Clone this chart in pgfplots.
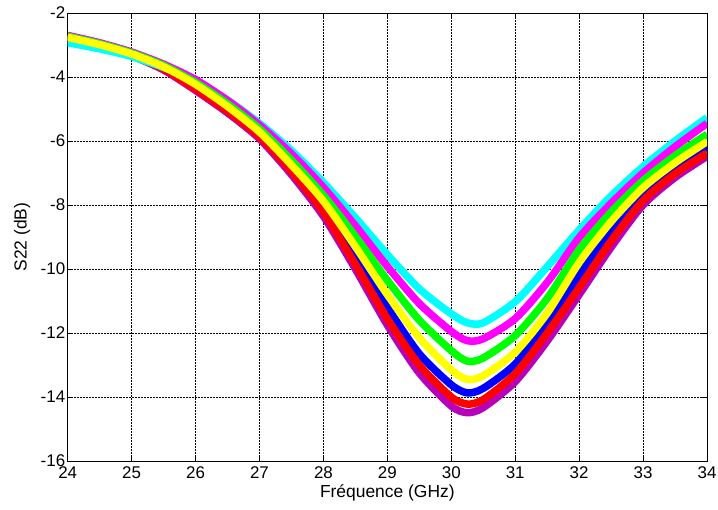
\documentclass[border=0pt]{standalone}
\usepackage{fontspec}
\setmainfont{Liberation Sans}
\usepackage{pgfplots}
\usepackage{pgfplotstable}
\pgfplotsset{compat=1.18}
\definecolor{cP}{rgb}{0.72,0,0.72}
\definecolor{cB}{rgb}{0,0,1}
\definecolor{cR}{rgb}{1,0,0}
\definecolor{cC}{rgb}{0,1,1}
\definecolor{cM}{rgb}{1,0,1}
\definecolor{cG}{rgb}{0,1,0}
\definecolor{cY}{rgb}{1,1,0}
\pgfplotstableread{
x     C      M      G      Y      B      R      P
24    -2.93  -2.70  -2.73  -2.76  -2.78  -2.80  -2.82
24.5  -3.12  -2.93  -2.96  -2.99  -3.01  -3.03  -3.05
25    -3.36  -3.22  -3.25  -3.28  -3.30  -3.32  -3.34
25.5  -3.70  -3.60  -3.64  -3.68  -3.72  -3.75  -3.78
26    -4.12  -4.08  -4.17  -4.23  -4.30  -4.38  -4.42
26.5  -4.72  -4.73  -4.84  -4.92  -5.00  -5.07  -5.12
27    -5.45  -5.50  -5.62  -5.72  -5.80  -5.87  -5.93
27.5  -6.30  -6.40  -6.60  -6.75  -6.85  -6.95  -7.05
28    -7.30  -7.45  -7.70  -7.88  -8.05  -8.22  -8.35
28.5  -8.40  -8.65  -8.98  -9.30  -9.60  -9.85  -10.00
29    -9.55  -9.92  -10.35 -10.80 -11.20 -11.55 -11.75
29.5  -10.62 -11.08 -11.60 -12.15 -12.65 -13.00 -13.25
30    -11.40 -11.95 -12.55 -13.15 -13.62 -14.00 -14.28
30.25 -11.68 -12.24 -12.88 -13.45 -13.87 -14.22 -14.49
30.5  -11.68 -12.18 -12.78 -13.33 -13.73 -14.08 -14.33
31    -11.02 -11.55 -12.08 -12.60 -12.97 -13.27 -13.52
31.5  -9.93  -10.42 -10.92 -11.38 -11.70 -12.00 -12.25
32    -8.78  -9.02  -9.40  -9.80  -10.20 -10.58 -10.80
32.5  -7.72  -7.95  -8.22  -8.52  -8.82  -9.12  -9.32
33    -6.80  -7.00  -7.24  -7.46  -7.66  -7.86  -8.00
33.5  -6.00  -6.18  -6.46  -6.68  -6.86  -7.02  -7.14
34    -5.27  -5.45  -5.79  -6.02  -6.18  -6.38  -6.48
}\data
\begin{document}
\begin{tikzpicture}
\begin{axis}[
  name=ax,
  scale only axis,
  width=639.3bp, height=448bp,
  xmin=24, xmax=34, ymin=-16, ymax=-2,
  xtick={24,25,...,34}, ytick={-16,-14,...,-2},
  grid=major,
  major grid style={black, line width=0.5pt, densely dotted},
  tick align=inside,
  major tick length=5bp,
  axis line style={black, line width=0.8pt},
  tick style={black, line width=0.6pt},
  every tick label/.append style={font=\fontsize{17}{20}\selectfont},
  /pgf/number format/assume math mode=true,
  xticklabel style={yshift=-2.5bp},
  yticklabel style={xshift=1bp},
  xlabel={Fréquence (GHz)},
  ylabel={S22 (dB)},
  xlabel style={font=\fontsize{17.5}{20}\selectfont, at={(axis description cs:0.5,-0.0714)}, anchor=center},
  ylabel style={font=\fontsize{17.5}{20}\selectfont, at={(axis description cs:-0.0712,0.5)}, anchor=center},
  every axis plot/.append style={line width=7.5bp, smooth, tension=0.45, no markers},
]
\addplot[cP] table[x=x,y=P]{\data};
\addplot[cB] table[x=x,y=B]{\data};
\addplot[cR] table[x=x,y=R]{\data};
\addplot[cC] table[x=x,y=C]{\data};
\addplot[cM] table[x=x,y=M]{\data};
\addplot[cG] table[x=x,y=G]{\data};
\addplot[cY] table[x=x,y=Y]{\data};
\end{axis}
\pgfresetboundingbox
\path[use as bounding box] ([shift={(-67.7bp,-49bp)}]ax.south west) rectangle ([shift={(11bp,13bp)}]ax.north east);
\end{tikzpicture}
\end{document}
